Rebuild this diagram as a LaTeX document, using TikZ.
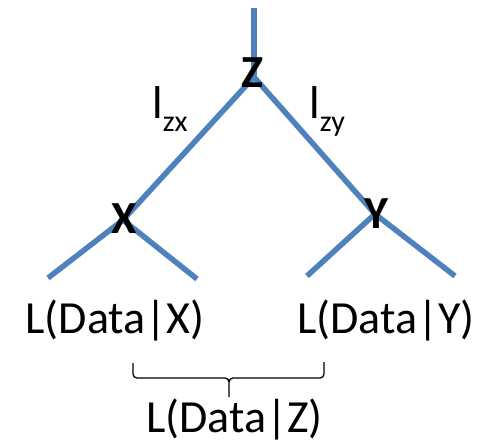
\documentclass[tikz,border=0pt]{standalone}
\usepackage{fontspec}
\setmainfont{Carlito}
\definecolor{branchblue}{RGB}{79,129,189}
\tikzset{
  branch/.style={draw=branchblue, line width=5.5pt, line cap=butt, line join=miter},
  bigletter/.style={font=\fontsize{46}{46}\selectfont\bfseries, inner sep=0pt, anchor=base},
  lik/.style={font=\fontsize{46}{46}\selectfont, inner sep=0pt, anchor=base},
  brlabel/.style={font=\fontsize{46}{46}\selectfont, inner sep=0pt, anchor=base west},
  bracepen/.style={draw=black, line width=1.3pt, line join=round}
}
\newcommand{\subtxt}[1]{\raisebox{-13pt}{\fontsize{30}{30}\selectfont #1}}
\begin{document}
\begin{tikzpicture}[x=1pt,y=-1pt]
\useasboundingbox (0,0) rectangle (491,445);
% junctions and free ends
\coordinate (top) at (254,8);
\coordinate (jz) at (254,77);
\coordinate (jx) at (123,220);
\coordinate (jy) at (375,214);
\coordinate (xl) at (48,278);
\coordinate (xr) at (197,279);
\coordinate (yl) at (307,276);
\coordinate (yr) at (455,276);
% branches
\draw[branch] (top) -- (jz);
\draw[branch] (xl) -- (jx) -- (jz) -- (jy) -- (yr);
\draw[branch] (jx) -- (xr);
\draw[branch] (jy) -- (yl);
% letters
\node[bigletter] (Z) at (252.5,87) {Z};
\node[bigletter] (X) at (124.5,233) {X};
\node[bigletter] (Y) at (376.5,228) {Y};
% branch labels
\node[brlabel] (lzx) at (152,118) {l\subtxt{zx}};
\node[brlabel] (lzy) at (309,118) {l\subtxt{zy}};
% likelihoods
\node[lik] (LX) at (115,333) {L(Data|X)};
\node[lik] (LY) at (386,333) {L(Data|Y)};
\node[lik] (LZ) at (234.5,432) {L(Data|Z)};
% brace
\draw[bracepen] (133,363) -- (133,374) to[out=-90,in=180] (137,378) -- (225,378)
  to[out=0,in=90] (229,382) -- (229,397);
\draw[bracepen] (229,382) to[out=90,in=180] (233,378) -- (320,378)
  to[out=0,in=-90] (324,374) -- (324,362);
\end{tikzpicture}
\end{document}
